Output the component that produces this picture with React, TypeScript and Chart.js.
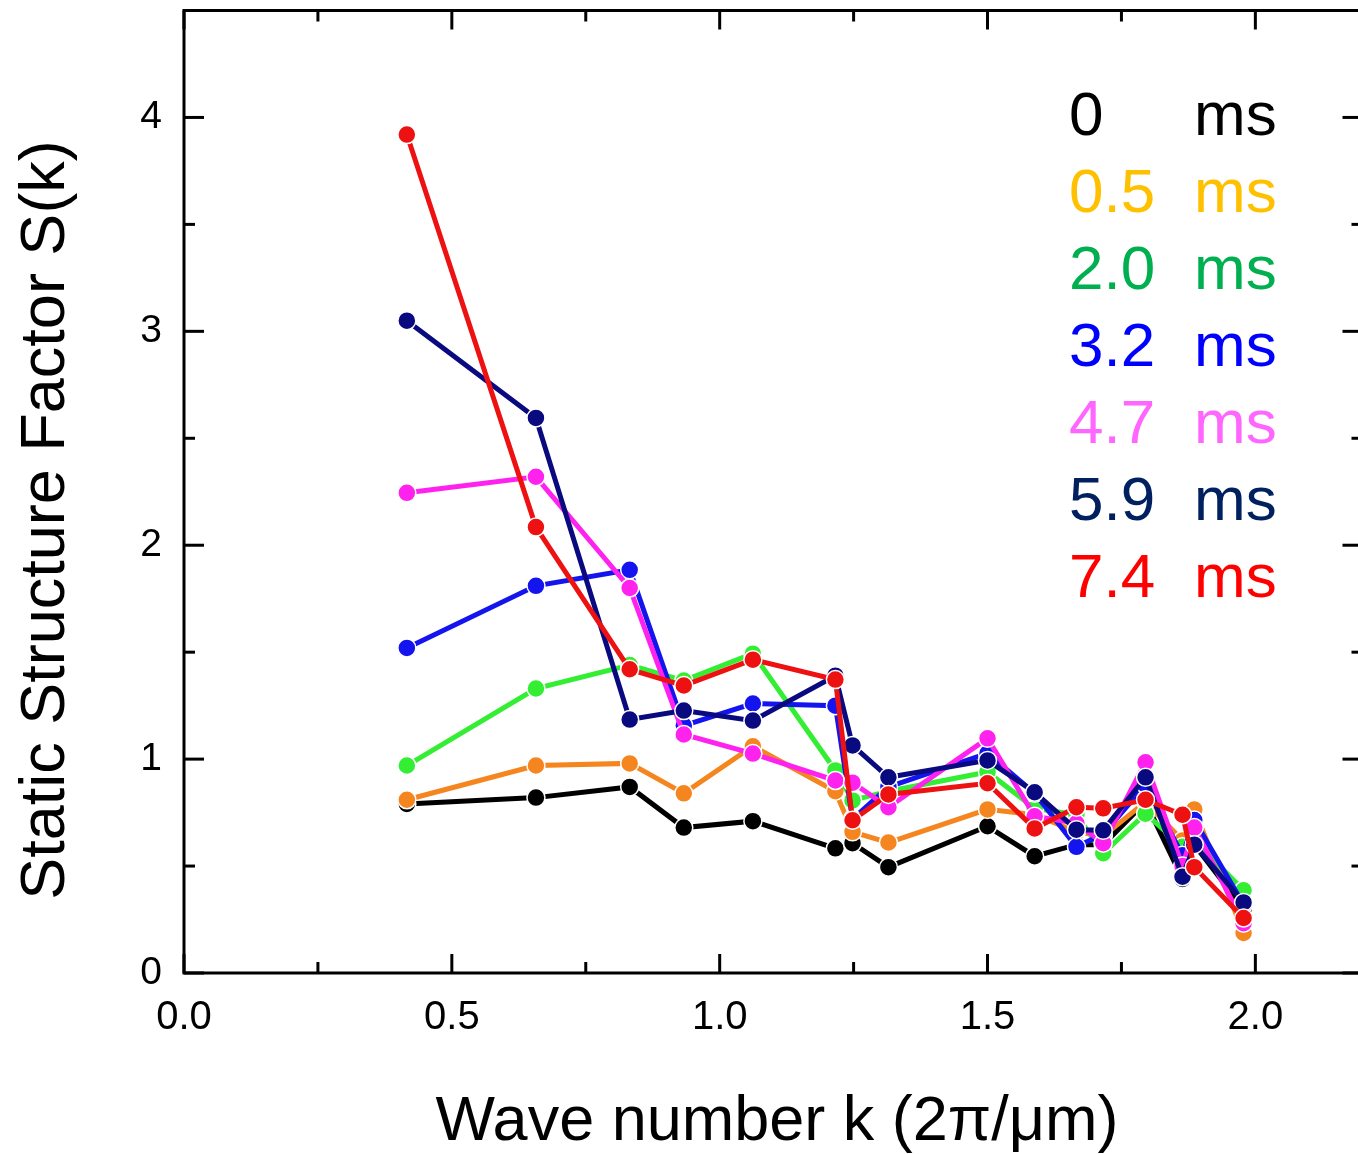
import React, { useEffect, useRef } from "react";
import { Chart, registerables } from "chart.js";

Chart.register(...registerables);

const kValues = [0.416, 0.657, 0.832, 0.933, 1.062, 1.216, 1.248, 1.315, 1.5, 1.588, 1.666, 1.716, 1.795, 1.864, 1.886, 1.978];

const s0 = [0.79, 0.82, 0.87, 0.68, 0.71, 0.583, 0.607, 0.495, 0.686, 0.546, 0.6, 0.6, 0.8, 0.44, 0.6, 0.3];
const s05 = [0.81, 0.97, 0.98, 0.84, 1.06, 0.85, 0.66, 0.61, 0.765, 0.74, 0.66, 0.64, 0.8, 0.62, 0.765, 0.187];
const s20 = [0.97, 1.33, 1.44, 1.367, 1.493, 0.947, 0.807, 0.85, 0.94, 0.77, 0.74, 0.56, 0.745, 0.59, 0.62, 0.387];
const s32 = [1.52, 1.81, 1.885, 1.157, 1.26, 1.25, 0.72, 0.87, 1.027, 0.84, 0.59, 0.65, 0.88, 0.55, 0.715, 0.32];
const s47 = [2.245, 2.32, 1.8, 1.115, 1.026, 0.9, 0.89, 0.775, 1.097, 0.733, 0.7, 0.607, 0.985, 0.5, 0.68, 0.233];
const s59 = [3.05, 2.595, 1.185, 1.227, 1.18, 1.39, 1.064, 0.915, 0.994, 0.845, 0.67, 0.667, 0.915, 0.45, 0.6, 0.33];
const s74 = [3.92, 2.085, 1.42, 1.344, 1.465, 1.372, 0.714, 0.835, 0.887, 0.676, 0.775, 0.77, 0.81, 0.74, 0.495, 0.257];

const seriesValues = [s0, s05, s20, s32, s47, s59, s74];
const seriesNames = ["0", "0.5", "2.0", "3.2", "4.7", "5.9", "7.4"];
const lineColors = ["#000000", "#f5861f", "#33ee33", "#1414ee", "#ff22ee", "#0a0a80", "#ee1111"];
const legendColors = ["#000000", "#ffc000", "#00b050", "#0000ff", "#ff66ff", "#002060", "#ff0000"];

const xMajor = [0, 0.5, 1.0, 1.5, 2.0];
const xMinor = [0.25, 0.75, 1.25, 1.75];
const yMajor = [0, 1, 2, 3, 4];
const yMinor = [0.5, 1.5, 2.5, 3.5];
const xMax = 2.2; // the frame's right edge lies just beyond the visible image

const xTitle = "Wave number k (2\u03c0/\u03bcm)";
const yTitle = "Static Structure Factor S(k)";

const FONT = '"Liberation Sans", Arial, sans-serif';

const framePlugin = {
  id: "frame",
  afterDraw(chart: any) {
    const { ctx, chartArea: a, scales } = chart;
    const x = scales.x;
    const y = scales.y;
    const right = a.right;
    ctx.save();
    ctx.strokeStyle = "#000";
    ctx.lineWidth = 3;
    ctx.lineCap = "butt";
    ctx.beginPath();
    ctx.moveTo(right, a.bottom);
    ctx.lineTo(a.left, a.bottom);
    ctx.lineTo(a.left, a.top);
    ctx.lineTo(right, a.top);
    ctx.lineTo(right, a.bottom);
    ctx.stroke();
    const tick = (x1: number, y1: number, x2: number, y2: number) => {
      ctx.beginPath();
      ctx.moveTo(x1, y1);
      ctx.lineTo(x2, y2);
      ctx.stroke();
    };
    xMajor.forEach((v) => {
      const p = x.getPixelForValue(v);
      tick(p, a.bottom, p, a.bottom - 19);
      tick(p, a.top, p, a.top + 19);
    });
    xMinor.forEach((v) => {
      const p = x.getPixelForValue(v);
      tick(p, a.bottom, p, a.bottom - 11);
      tick(p, a.top, p, a.top + 11);
    });
    yMajor.forEach((v) => {
      const p = y.getPixelForValue(v);
      tick(a.left, p, a.left + 20, p);
      tick(right, p, right - 20, p);
    });
    yMinor.forEach((v) => {
      const p = y.getPixelForValue(v);
      tick(a.left, p, a.left + 11, p);
      tick(right, p, right - 11, p);
    });

    // legend
    ctx.font = `62px ${FONT}`;
    ctx.textBaseline = "alphabetic";
    ctx.textAlign = "left";
    seriesNames.forEach((n, i) => {
      const by = 135 + i * 77;
      ctx.fillStyle = legendColors[i];
      ctx.fillText(n, 1069, by);
      ctx.fillText("ms", 1194, by);
    });

    // axis titles
    ctx.fillStyle = "#000";
    ctx.font = `63px ${FONT}`;
    ctx.textAlign = "center";
    ctx.fillText(xTitle, 777, 1140);
    ctx.save();
    ctx.translate(64, 520);
    ctx.rotate(-Math.PI / 2);
    ctx.fillText(yTitle, 0, 0);
    ctx.restore();
    ctx.restore();
  },
};

const zeroPad = (s: any) => {
  s.paddingTop = 0;
  s.paddingBottom = 0;
  s.paddingLeft = 0;
  s.paddingRight = 0;
};

export default function App() {
  const ref = useRef<HTMLCanvasElement | null>(null);
  useEffect(() => {
    if (!ref.current) return;
    const datasets = seriesValues.map((vals, i) => ({
      label: seriesNames[i] + " ms",
      data: vals.map((v, j) => ({ x: kValues[j], y: v })),
      borderColor: lineColors[i],
      backgroundColor: lineColors[i],
      pointBackgroundColor: lineColors[i],
      pointBorderColor: "#ffffff",
      pointBorderWidth: 1.5,
      pointRadius: 9,
      borderWidth: 5,
      tension: 0,
      clip: false as any,
      order: seriesValues.length - i,
    }));
    const chart = new Chart(ref.current, {
      type: "line",
      data: { datasets },
      options: {
        animation: false,
        responsive: false,
        events: [],
        layout: { padding: { top: 9, right: 0, left: 0, bottom: 0 } },
        plugins: { legend: { display: false }, tooltip: { enabled: false } },
        scales: {
          x: {
            type: "linear",
            min: 0,
            max: xMax,
            grid: { display: false, drawTicks: false },
            border: { display: false },
            ticks: {
              stepSize: 0.5,
              includeBounds: false,
              color: "#000",
              font: { size: 40, family: FONT },
              padding: 21,
              callback: (v: any) => Number(v).toFixed(1),
            },
            afterFit: (s: any) => {
              s.height = 181;
              zeroPad(s);
            },
          },
          y: {
            type: "linear",
            min: 0,
            max: 4.5,
            grid: { display: false, drawTicks: false },
            border: { display: false },
            ticks: {
              stepSize: 1,
              includeBounds: false,
              color: "#000",
              font: { size: 39, family: FONT },
              padding: 22,
              callback: (v: any) => String(v),
            },
            afterFit: (s: any) => {
              s.width = 184;
              zeroPad(s);
            },
          },
        },
      },
      plugins: [framePlugin],
    });
    return () => chart.destroy();
  }, []);
  return (
    <div
      style={{
        position: "absolute",
        left: 0,
        top: 0,
        width: 1358,
        height: 1154,
        overflow: "hidden",
        background: "#fff",
      }}
    >
      <canvas ref={ref} width={1373} height={1154} style={{ display: "block", width: 1373, height: 1154 }} />
    </div>
  );
}
